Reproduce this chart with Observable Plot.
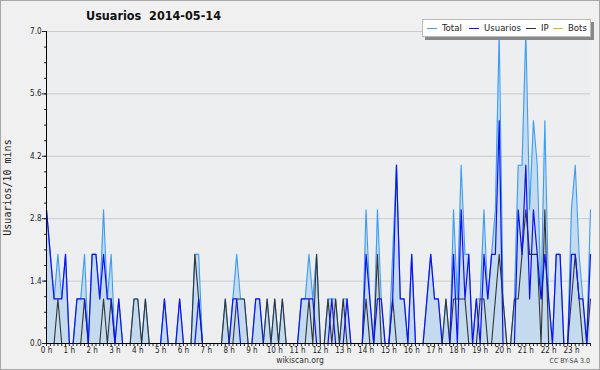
<!DOCTYPE html>
<html><head><meta charset="utf-8">
<script src="https://cdn.jsdelivr.net/npm/d3@7"></script>
<script src="https://cdn.jsdelivr.net/npm/@observablehq/plot@0.6"></script>
<style>
html,body{margin:0;padding:0;background:#f0f0f0;}
#wrap{position:relative;width:600px;height:370px;overflow:hidden;background:#f0f0f0;font-family:"DejaVu Sans Condensed","DejaVu Sans",sans-serif;}
#border{position:absolute;left:0;top:0;width:598px;height:368px;border:1px solid #a8a8a8;pointer-events:none;}
#title{position:absolute;left:86px;top:8px;font-size:12.5px;font-weight:bold;color:#111;white-space:pre;}
#ylab{position:absolute;left:-43px;top:182px;width:100px;text-align:center;transform:rotate(-90deg);font-family:"DejaVu Sans Mono",monospace;font-size:10px;color:#222;white-space:nowrap;}
#legend{position:absolute;left:422px;top:19px;width:167px;height:16px;background:#fff;border:1px solid #bbb;box-shadow:3px 3px 0 #888;font-size:9.5px;color:#222;}
#legend .it{position:absolute;top:2px;white-space:nowrap;}
#legend .ln{display:inline-block;width:10px;height:0;border-top:1px solid;vertical-align:middle;margin-right:5px;}
#foot{position:absolute;left:0;width:600px;top:355px;text-align:center;font-size:8.5px;color:#333;}
#cc{position:absolute;right:10px;top:357px;font-size:7px;color:#444;}
</style></head>
<body>
<div id="wrap">
  <div id="chart"></div>
  <div id="title">Usuarios  2014-05-14</div>
  <div id="ylab">Usuarios/10 mins</div>
  <div id="legend"></div>
  <div id="foot">wikiscan.org</div>
  <div id="cc">CC BY-SA 3.0</div>
  <div id="border"></div>
</div>
<script>
const hourLabels = ["0 h","1 h","2 h","3 h","4 h","5 h","6 h","7 h","8 h","9 h","10 h","11 h","12 h","13 h","14 h","15 h","16 h","17 h","18 h","19 h","20 h","21 h","22 h","23 h"];
const yTickValues = [0, 1.4, 2.8, 4.2, 5.6, 7.0];
const seriesNames = ["Total", "Usuarios", "IP", "Bots"];
const seriesColors = ["#3d9cf5", "#1010f0", "#333333", "#ffa31a"];

const total = [
3,2,1,2,1,2,0,0,1,1, 2,0,2,2,1,3,1,2,0,1,
0,0,0,1,1,0,1,0,0,0, 0,1,0,0,0,1,0,0,0,2,
2,0,0,0,0,0,0,1,0,1, 2,1,1,0,0,1,1,0,1,0,
1,0,1,0,0,0,0,1,1,2, 1,2,0,0,1,1,1,0,1,1,
0,0,0,0,3,1,0,3,1,0, 0,2,4,1,1,0,2,0,0,0,
1,2,1,1,0,1,0,3,1,4, 2,2,0,1,1,3,1,2,3,7,
1,0,0,1,4,4,7,3,5,4, 1,5,1,0,2,2,0,0,3,4,
2,1,0,3];
const usuarios = [
3,2,1,1,1,2,0,0,1,1, 1,0,2,2,1,2,1,1,0,1,
0,0,0,0,0,0,0,0,0,0, 0,1,0,0,0,1,0,0,0,0,
1,0,0,0,0,0,0,0,0,1, 1,0,0,0,0,1,1,0,0,0,
0,0,0,0,0,0,0,1,1,1, 1,0,0,0,0,1,0,0,0,1,
0,0,0,0,2,1,0,1,1,0, 0,1,4,1,1,0,2,0,0,0,
1,2,1,1,0,0,0,2,0,3, 1,2,0,1,0,2,1,2,2,5,
0,0,0,0,3,2,4,1,3,2, 1,2,1,0,2,2,0,0,2,2,
1,1,0,2];
const ip = [
0,0,0,1,0,0,0,0,0,0, 1,0,0,0,0,1,0,1,0,0,
0,0,0,1,1,0,1,0,0,0, 0,0,0,0,0,0,0,0,0,2,
1,0,0,0,0,0,0,1,0,0, 1,1,1,0,0,0,0,0,1,0,
1,0,1,0,0,0,0,0,0,1, 0,2,0,0,1,0,1,0,1,0,
0,0,0,0,1,0,0,2,0,0, 0,1,0,0,0,0,0,0,0,0,
0,0,0,0,0,1,0,1,1,1, 1,0,0,0,1,1,0,0,1,2,
1,0,0,1,1,2,3,2,2,2, 0,3,0,0,0,0,0,0,1,2,
1,0,0,1];
const bots = [
0,0,0,0,0,0,0,0,0,0, 0,0,0,0,0,0,0,0,0,0,
0,0,0,0,0,0,0,0,0,0, 0,0,0,0,0,0,0,0,0,0,
0,0,0,0,0,0,0,0,0,0, 0,0,0,0,0,0,0,0,0,0,
0,0,0,0,0,0,0,0,0,0, 0,0,0,0,0,0,0,0,0,0,
0,0,0,0,0,0,0,0,0,0, 0,0,0,0,0,0,0,0,0,0,
0,0,0,0,0,0,0,0,0,0, 0,0,0,0,0,0,0,0,0,0,
0,0,0,0,0,0,0,0,0,0, 0,0,0,0,0,0,0,0,0,0,
0,0,0,0];

const rows = total.map((t, i) => ({i, total: t, usuarios: usuarios[i], ip: ip[i], bots: bots[i]}));
const slots = rows.map(d => d.i);
const minorY = d3.range(0, 7.001, 0.35);

const chart = Plot.plot({
  width: 600, height: 370,
  marginLeft: 46, marginRight: 10, marginTop: 31, marginBottom: 27,
  style: {background: "transparent", fontFamily: "'DejaVu Sans Condensed','DejaVu Sans',sans-serif", fontSize: "8px", color: "#222"},
  x: {domain: [0, 143]},
  y: {domain: [0, 7]},
  marks: [
    Plot.frame({fill: "#eceef0", stroke: null}),
    Plot.ruleY(yTickValues.slice(1), {stroke: "#cbcbcb", strokeWidth: 1}),
    Plot.areaY(rows, {x: "i", y: "total", fill: "#c4dbef", curve: "linear"}),
    Plot.lineY(rows, {x: "i", y: "total", stroke: seriesColors[0], strokeWidth: 1.1}),
    Plot.lineY(rows, {x: "i", y: "ip", stroke: seriesColors[2], strokeWidth: 1.1}),
    Plot.lineY(rows, {x: "i", y: "usuarios", stroke: seriesColors[1], strokeWidth: 1.2}),
    Plot.lineY(rows, {x: "i", y: "bots", stroke: seriesColors[3], strokeWidth: 1}),
    Plot.axisY({ticks: minorY, tickSize: 2, tickFormat: () => "", label: null}),
    Plot.axisY({ticks: yTickValues, tickSize: 4, tickPadding: 1, tickFormat: d => d.toFixed(1), label: null, fontSize: 8}),
    Plot.axisX({ticks: slots, tickSize: 3, tickPadding: 1, tickFormat: i => i % 6 === 0 ? hourLabels[i / 6] : "", label: null, fontSize: 8}),
    Plot.ruleX([0], {stroke: "#000"}),
    Plot.ruleY([0], {stroke: "#000"})
  ]
});
document.getElementById("chart").appendChild(chart);

const lg = document.getElementById("legend");
const pos = [4, 46, 103, 130];
seriesNames.forEach((n, k) => {
  const s = document.createElement("span");
  s.className = "it";
  s.style.left = pos[k] + "px";
  s.innerHTML = `<span class="ln" style="border-color:${seriesColors[k]}"></span>${n}`;
  lg.appendChild(s);
});
</script>
</body></html>
